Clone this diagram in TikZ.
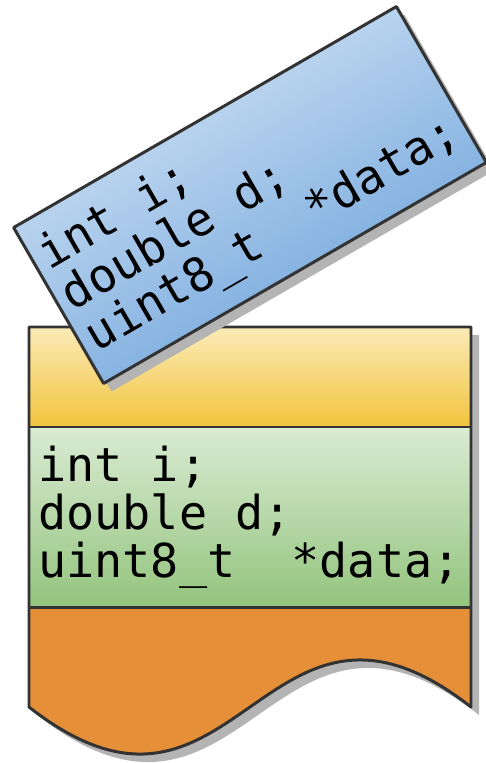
\documentclass[tikz,border=0pt]{standalone}
\usepackage{fontspec}
\newfontfamily\codefont{DejaVu Sans Mono}
\definecolor{lineg}{RGB}{51,51,51}
\definecolor{shadowg}{RGB}{180,180,180}
\definecolor{yelltop}{RGB}{250,234,182}
\definecolor{yellbot}{RGB}{242,196,62}
\definecolor{greentop}{RGB}{218,235,211}
\definecolor{greenbot}{RGB}{147,196,125}
\definecolor{bluetop}{RGB}{215,230,246}
\definecolor{bluebot}{RGB}{104,160,218}
\definecolor{heaporange}{RGB}{229,143,56}

\newcommand{\structcode}{int i;\\double d;\\uint8\_t~~*data;}
\newcommand{\memblock}{(29,327) -- (471,327) -- (471,707) .. controls (263,544) and (237,870) .. (29,707) -- cycle}

\begin{document}
\begin{tikzpicture}[x=0.2mm,y=-0.2mm,line join=round]
\tikzset{code/.style={anchor=base west,inner sep=0,align=left,
  font=\codefont\fontsize{26.6}{27.1}\selectfont}}
\useasboundingbox (0,0) rectangle (486,763);

% memory block with its shadow
\fill[shadowg,shift={(8,8)}] \memblock;
\shade[top color=yelltop,bottom color=yellbot] (29,327) rectangle (471,427);
\shade[top color=greentop,bottom color=greenbot] (29,427) rectangle (471,607);
\fill[heaporange] (29,607) -- (471,607) -- (471,707) .. controls (263,544) and (237,870) .. (29,707) -- cycle;
\draw[lineg,line width=1.7pt] \memblock;
\draw[lineg,line width=1.7pt] (29,427) -- (471,427) (29,607) -- (471,607);
\node[code] (fields) at (38,577) {\structcode};

% tilted copy of the struct
\begin{scope}[shift={(258,203)},rotate=30]
\fill[shadowg] (-221,-90) rectangle (221,90);
\end{scope}
\begin{scope}[shift={(250,195)},rotate=30]
\shade[top color=bluetop,bottom color=bluebot,shading angle=30,draw=lineg,line width=1.7pt] (-221,-90) rectangle (221,90);
\node[code,rotate=30] (copy) at (-212,60) {\structcode};
\end{scope}
\end{tikzpicture}
\end{document}
